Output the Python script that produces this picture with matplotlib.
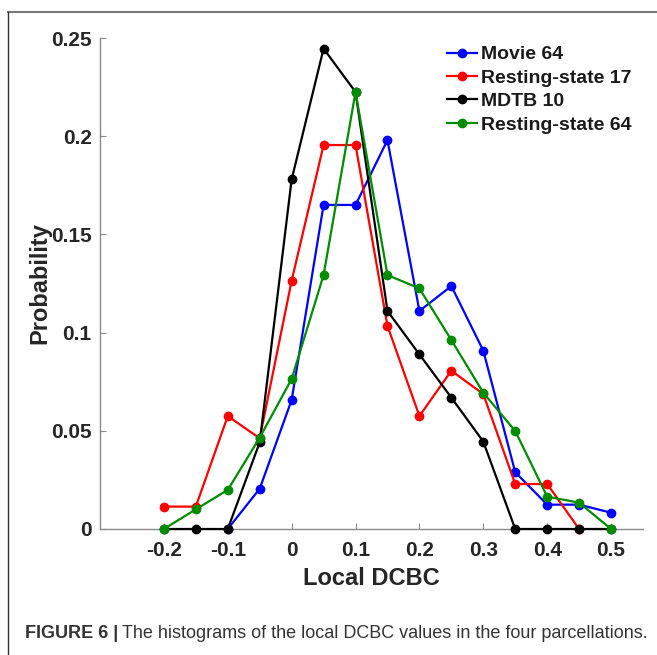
import matplotlib
matplotlib.use("Agg")
import matplotlib.pyplot as plt
from matplotlib.lines import Line2D

plt.rcParams['font.family'] = ['Liberation Sans', 'DejaVu Sans']

x_vals = [-0.2, -0.15, -0.1, -0.05, 0.0, 0.05, 0.1, 0.15, 0.2, 0.25, 0.3, 0.35, 0.4, 0.45, 0.5]

movie64_x = x_vals[2:]
movie64 = [0.0, 0.0205, 0.0657, 0.165, 0.165, 0.198, 0.111, 0.1237, 0.0908, 0.0289, 0.0124, 0.0124, 0.0083]

rest17_x = x_vals[:14]
rest17 = [0.0114, 0.0114, 0.0575, 0.0462, 0.1264, 0.1955, 0.1955, 0.1034, 0.0575, 0.0806, 0.0687, 0.0229, 0.0229, 0.0]

mdtb10_x = x_vals
mdtb10 = [0.0, 0.0, 0.0, 0.0441, 0.178, 0.2446, 0.2225, 0.111, 0.0889, 0.0669, 0.0445, 0.0, 0.0, 0.0, 0.0]

rest64_x = x_vals
rest64 = [0.0, 0.010, 0.0199, 0.0465, 0.0764, 0.1293, 0.2225, 0.1293, 0.1225, 0.0962, 0.0694, 0.0499, 0.0165, 0.0134, 0.0]

series = [
    ("Movie 64", movie64_x, movie64, "#0000ff"),
    ("Resting-state 17", rest17_x, rest17, "#ff0000"),
    ("MDTB 10", mdtb10_x, mdtb10, "#000000"),
    ("Resting-state 64", rest64_x, rest64, "#008c00"),
]

xticks = [-0.2, -0.1, 0, 0.1, 0.2, 0.3, 0.4, 0.5]
xticklabels = ["-0.2", "-0.1", "0", "0.1", "0.2", "0.3", "0.4", "0.5"]
yticks = [0, 0.05, 0.1, 0.15, 0.2, 0.25]
yticklabels = ["0", "0.05", "0.1", "0.15", "0.2", "0.25"]

W, H = 657, 655
fig = plt.figure(figsize=(W / 100, H / 100), dpi=100)
ax = fig.add_axes([100 / W, 1 - 529 / H, (643 - 100) / W, (529 - 38) / H])

for name, xs, ys, c in series:
    ax.plot(xs, ys, '-o', color=c, lw=1.6, ms=6, label=name, clip_on=False, zorder=3)

ax.set_xlim(-0.3, 0.55)
ax.set_ylim(0, 0.25)
ax.set_xticks(xticks)
ax.set_xticklabels(xticklabels)
ax.set_yticks(yticks)
ax.set_yticklabels(yticklabels)

for s in ['top', 'right']:
    ax.spines[s].set_visible(False)
for s in ['left', 'bottom']:
    ax.spines[s].set_color('#8a8a8a')
    ax.spines[s].set_linewidth(1.0)

ax.tick_params(direction='in', length=4, width=0.8, color='#8a8a8a',
               labelsize=15, labelcolor='#262626')
ax.tick_params(axis='x', pad=9)
ax.tick_params(axis='y', pad=6)
for lab in ax.get_xticklabels() + ax.get_yticklabels():
    lab.set_fontweight('bold')

ax.set_xlabel("Local DCBC", fontsize=17, fontweight='bold', color='#262626', labelpad=5)
ax.set_ylabel("Probability", fontsize=17, fontweight='bold', color='#262626', labelpad=0)

leg = ax.legend(loc='upper left', bbox_to_anchor=((439 - 100) / (643 - 100), 1 - (38 - 38) / (529 - 38)),
                frameon=False, prop={'weight': 'bold', 'size': 14},
                handlelength=1.55, handletextpad=0.2, labelspacing=0.3, borderaxespad=0)
for t in leg.get_texts():
    t.set_color('#1a1a1a')

# figure frame lines
fig.add_artist(Line2D([8 / W, 1.0], [1 - 12 / H, 1 - 12 / H], transform=fig.transFigure,
                      color='#7a7a7a', lw=1.5))
fig.add_artist(Line2D([8 / W, 8 / W], [1 - 12 / H, 0.0], transform=fig.transFigure,
                      color='#333333', lw=1.0))

# caption
t1 = fig.text(25 / W, 1 - 633 / H, "FIGURE 6 |", fontsize=13, fontweight='bold', color='#333333',
              va='center', ha='left')
fig.canvas.draw()
bb = t1.get_window_extent(renderer=fig.canvas.get_renderer())
fig.text((bb.x1 + 4) / W, 1 - 633 / H,
         "The histograms of the local DCBC values in the four parcellations.",
         fontsize=13, color='#333333', va='center', ha='left')

fig.savefig("out.png", dpi=100)
